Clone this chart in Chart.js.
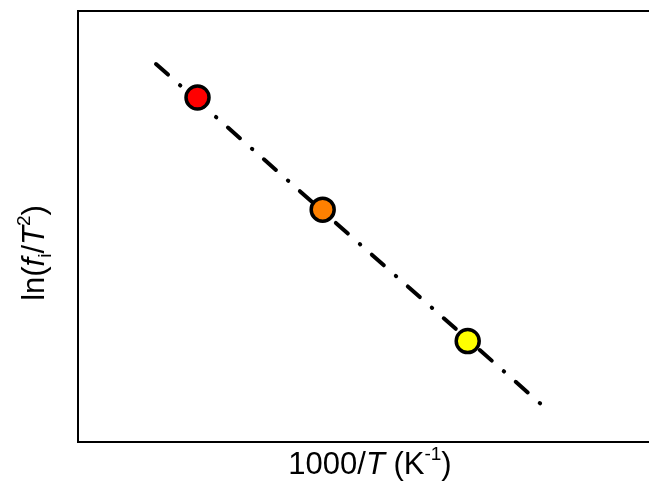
<!DOCTYPE html>
<html>
<head>
<meta charset="utf-8">
<title>ln(fi/T2) vs 1000/T</title>
<script src="https://cdn.jsdelivr.net/npm/chart.js@4/dist/chart.umd.min.js"></script>
<style>
	html, body { margin: 0; padding: 0; background: #ffffff; }
	#wrap { width: 649px; height: 485px; }
</style>
</head>
<body>
<div id="wrap"><canvas id="arrheniusChart" width="649" height="485"></canvas></div>
<script>
/*-------------------------------------------------------------------------*/
// Data (arbitrary units, the original has no tick labels)
/*-------------------------------------------------------------------------*/
var pointX = [2.093, 4.285, 6.825];
var pointY = [7.993, 5.390, 2.343];
var pointColors = ['#ff0000', '#ff8000', '#ffff00'];

var fitX = [1.366, 8.126];
var fitY = [8.770, 0.858];

var xLabel = [
	{ text: '1000/' },
	{ text: 'T', italic: true },
	{ text: ' (K' },
	{ text: '-1', sup: true },
	{ text: ')' }
];
var yLabel = [
	{ text: 'ln(' },
	{ text: 'f', italic: true },
	{ text: 'i', sub: true },
	{ text: '/' },
	{ text: 'T', italic: true },
	{ text: '2', sup: true },
	{ text: ')' }
];

var FONT_FAMILY = '"Liberation Sans", Arial, sans-serif';
var FONT_SIZE = 31;

function toPoints(xs, ys) {
	var out = [];
	for (var i = 0; i < xs.length; i++) {
		out.push({ x: xs[i], y: ys[i] });
	}
	return out;
}

/*-------------------------------------------------------------------------*/
// Rich text helpers (italic / sub / sup pieces)
/*-------------------------------------------------------------------------*/
function pieceFont(p) {
	var size = (p.sub || p.sup) ? Math.round(FONT_SIZE * 0.62) : FONT_SIZE;
	return (p.italic ? 'italic ' : '') + size + 'px ' + FONT_FAMILY;
}

function drawRich(ctx, parts, cx, baseline) {
	var total = 0;
	var widths = [];
	for (var i = 0; i < parts.length; i++) {
		ctx.font = pieceFont(parts[i]);
		widths.push(ctx.measureText(parts[i].text).width);
		total += widths[i];
	}
	var x = cx - total / 2;
	ctx.textBaseline = 'alphabetic';
	ctx.textAlign = 'left';
	for (var j = 0; j < parts.length; j++) {
		var p = parts[j];
		var dy = 0;
		if (p.sup) dy = -FONT_SIZE * 0.45;
		if (p.sub) dy = FONT_SIZE * 0.22;
		ctx.font = pieceFont(p);
		ctx.fillText(p.text, x, baseline + dy);
		x += widths[j];
	}
}

/*-------------------------------------------------------------------------*/
// Frame + axis titles plugin
/*-------------------------------------------------------------------------*/
var frameAndTitles = {
	id: 'frameAndTitles',
	afterDraw: function(chart) {
		var ctx = chart.ctx;
		var a = chart.chartArea;
		ctx.save();
		ctx.strokeStyle = '#000000';
		ctx.lineWidth = 2;
		ctx.beginPath();
		ctx.moveTo(chart.width + 2, a.top);
		ctx.lineTo(a.left, a.top);
		ctx.lineTo(a.left, a.bottom);
		ctx.lineTo(chart.width + 2, a.bottom);
		ctx.stroke();

		ctx.fillStyle = '#000000';
		drawRich(ctx, xLabel, 370, 474);

		ctx.translate(44, 253);
		ctx.rotate(-Math.PI / 2);
		drawRich(ctx, yLabel, 0, 0);
		ctx.restore();
	}
};

/*-------------------------------------------------------------------------*/
// Chart
/*-------------------------------------------------------------------------*/
var ctx = document.getElementById('arrheniusChart').getContext('2d');
new Chart(ctx, {
	type: 'scatter',
	data: {
		datasets: [{
			label: 'measured',
			data: toPoints(pointX, pointY),
			pointRadius: 11.5,
			pointHoverRadius: 11.5,
			pointBackgroundColor: pointColors,
			pointBorderColor: '#000000',
			pointBorderWidth: 3.5,
			showLine: false,
			order: 0
		}, {
			label: 'fit',
			type: 'line',
			data: toPoints(fitX, fitY),
			borderColor: '#000000',
			borderWidth: 4,
			borderDash: [16, 16, 0.5, 15.5],
			borderCapStyle: 'round',
			pointRadius: 0,
			fill: false,
			order: 1
		}]
	},
	options: {
		responsive: false,
		animation: false,
		layout: { autoPadding: false, padding: { left: 78, top: 11, right: 0, bottom: 43 } },
		plugins: {
			legend: { display: false },
			tooltip: { enabled: false }
		},
		scales: {
			x: { type: 'linear', min: 0, max: 10, display: false },
			y: { type: 'linear', min: 0, max: 10, display: false }
		}
	},
	plugins: [frameAndTitles]
});
</script>
</body>
</html>
